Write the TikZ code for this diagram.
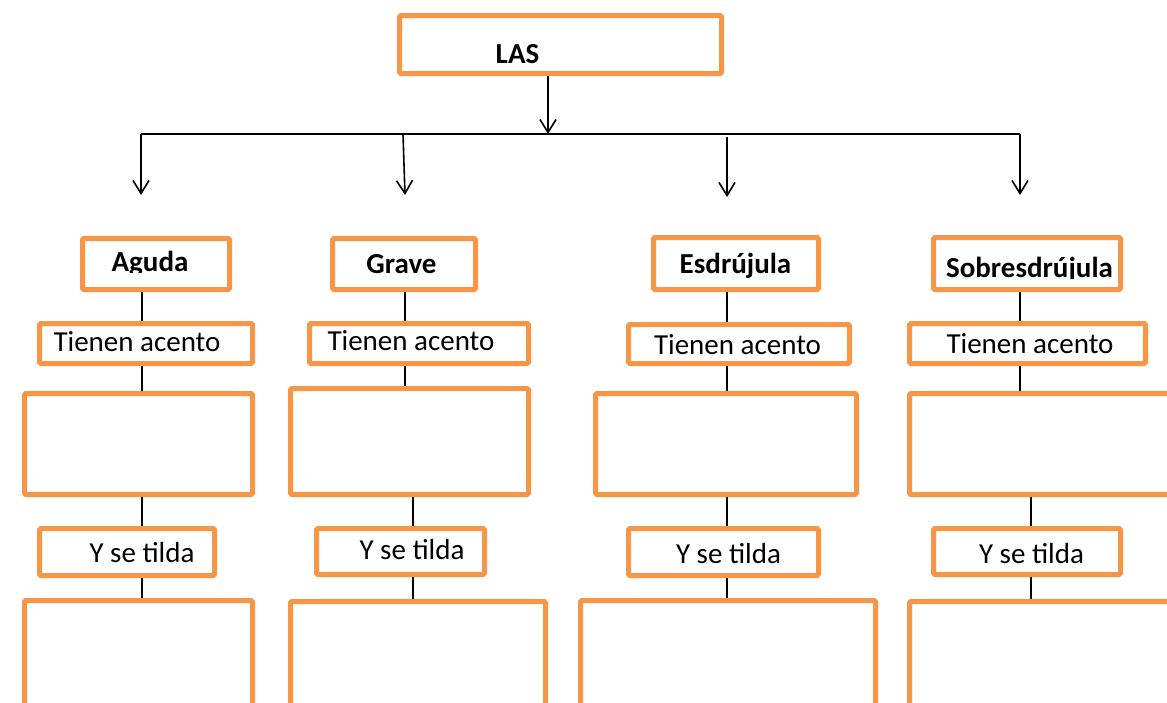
\documentclass[tikz,border=0pt]{standalone}
\usepackage{fontspec}
\setmainfont{Carlito}
\usetikzlibrary{arrows.meta,fit}
\definecolor{accent}{HTML}{F79646}
\begin{document}
\begin{tikzpicture}[x=1pt,y=-1pt,
  box/.style={draw=accent,line width=5pt,rounded corners=1.5pt,inner sep=0pt,fill=white},
  lbl/.style={inner sep=0pt,anchor=base,font=\fontsize{29}{34}\selectfont},
  blbl/.style={inner sep=0pt,anchor=base,font=\fontsize{29}{34}\selectfont\bfseries},
  conn/.style={line width=1.6pt,black},
  arr/.style={conn,-{Straight Barb[length=13pt,width=16pt]}}]
\fill[white] (0,0) rectangle (1167,702);
\clip (0,0) rectangle (1167,702);
\useasboundingbox (0,0) rectangle (1167,702);

% ---------- boxes ----------
\node[box,fit={(399.5,15.5) (721.5,73.5)}] (las) {};

\node[box,fit={(82.5,238.5) (229.5,289.5)}] (agu) {};
\node[box,fit={(332.5,238.5) (475.5,289.5)}] (gra) {};
\node[box,fit={(653.5,237.5) (818.5,289.5)}] (esd) {};
\node[box,fit={(933.5,237.5) (1120.5,289.5)}] (sob) {};

\node[box,fit={(39.5,323.5) (252.5,363.5)}] (taA) {};
\node[box,fit={(309.5,323.5) (528.5,363.5)}] (taG) {};
\node[box,fit={(628.5,324.5) (849.5,363.5)}] (taE) {};
\node[box,fit={(909.5,323.5) (1145.5,363.5)}] (taS) {};

\node[box,fit={(24.5,393.5) (252.5,494.5)}] (emA) {};
\node[box,fit={(290.5,388.5) (528.5,494.5)}] (emG) {};
\node[box,fit={(595.5,393.5) (856.5,494.5)}] (emE) {};
\node[box,fit={(909.5,393.5) (1175,494.5)}] (emS) {};

\node[box,fit={(39.5,528.5) (214.5,575.5)}] (ytA) {};
\node[box,fit={(316.5,528.5) (484.5,574.5)}] (ytG) {};
\node[box,fit={(628.5,528.5) (818.5,575.5)}] (ytE) {};
\node[box,fit={(933.5,528.5) (1120.5,574.5)}] (ytS) {};

\node[box,fit={(24.5,600.5) (252.5,720)}] (boA) {};
\node[box,fit={(290.5,601.5) (545.5,720)}] (boG) {};
\node[box,fit={(580.5,600.5) (875.5,720)}] (boE) {};
\node[box,fit={(909.5,601.5) (1175,720)}] (boS) {};

% ---------- texts ----------
\node[blbl] (tLas) at (517.5,63) {LAS};
\begin{scope}
  \clip (85,240) rectangle (228,272);
  \node[blbl] (tAgu) at (150,271) {Aguda};
\end{scope}
\node[blbl] (tGra) at (401.5,273) {Grave};
\node[blbl] (tEsd) at (735.5,273) {Esdrújula};
\begin{scope}
  \clip (936,240) rectangle (1118,278);
  \node[blbl] (tSob) at (1029.5,277) {Sobresdrújula};
\end{scope}

\node[lbl] (tTaA) at (137,351) {Tienen acento};
\node[lbl] (tTaG) at (411,350) {Tienen acento};
\node[lbl] (tTaE) at (737.5,354) {Tienen acento};
\node[lbl] (tTaS) at (1030,353) {Tienen acento};

\node[lbl] (tYtA) at (142,562) {Y se tilda};
\node[lbl] (tYtG) at (412,559) {Y se tilda};
\node[lbl] (tYtE) at (728.5,563) {Y se tilda};
\node[lbl] (tYtS) at (1031.5,563) {Y se tilda};

% ---------- top connectors ----------
\coordinate (cLas) at (548,0);
\coordinate (hL) at (141,134);
\coordinate (hM) at (454,134);
\coordinate (hR) at (1020,134);
\coordinate (hC) at (548,134);
\coordinate (hG) at (403,134);
\coordinate (hE) at (727,137);
\coordinate (tipA) at (141,195);
\coordinate (tipG) at (405,195);
\coordinate (tipE) at (727,197);
\coordinate (tipS) at (1020,195);

\draw[arr] (las.south -| cLas) -- (hC);
\draw[conn] (hL) -- (hR);
\draw[conn,line width=2.3pt] (hL) -- (hM);
\draw[arr] (hL) -- (tipA);
\draw[arr] (hG) -- (tipG);
\draw[arr] (hE) -- (tipE);
\draw[arr] (hR) -- (tipS);

% ---------- column connectors ----------
\coordinate (xA) at (142,0);
\coordinate (xG) at (405,0);
\coordinate (xGl) at (413,0);
\coordinate (xE) at (727,0);
\coordinate (xS) at (1020,0);
\coordinate (xSl) at (1031,0);

\draw[conn] (agu.south -| xA) -- (taA.north -| xA);
\draw[conn] (taA.south -| xA) -- (emA.north -| xA);
\draw[conn] (emA.south -| xA) -- (ytA.north -| xA);
\draw[conn] (ytA.south -| xA) -- (boA.north -| xA);

\draw[conn] (gra.south -| xG) -- (taG.north -| xG);
\draw[conn] (taG.south -| xG) -- (emG.north -| xG);
\draw[conn] (emG.south -| xGl) -- (ytG.north -| xGl);
\draw[conn] (ytG.south -| xGl) -- (boG.north -| xGl);

\draw[conn] (esd.south -| xE) -- (taE.north -| xE);
\draw[conn] (taE.south -| xE) -- (emE.north -| xE);
\draw[conn] (emE.south -| xE) -- (ytE.north -| xE);
\draw[conn] (ytE.south -| xE) -- (boE.north -| xE);

\draw[conn] (sob.south -| xS) -- (taS.north -| xS);
\draw[conn] (taS.south -| xS) -- (emS.north -| xS);
\draw[conn] (emS.south -| xSl) -- (ytS.north -| xSl);
\draw[conn] (ytS.south -| xSl) -- (boS.north -| xSl);
\end{tikzpicture}
\end{document}
